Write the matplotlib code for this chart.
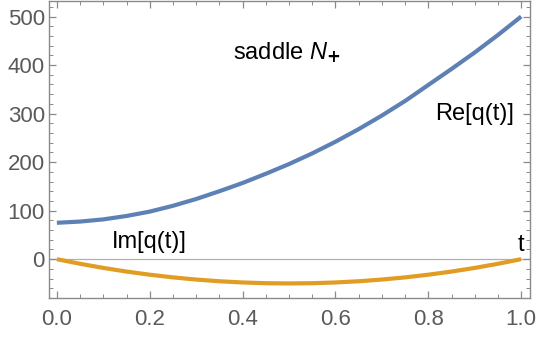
import matplotlib
matplotlib.use('Agg')
import matplotlib.pyplot as plt
from matplotlib.ticker import MultipleLocator

plt.rcParams['font.family'] = ['Liberation Sans', 'DejaVu Sans']
plt.rcParams['mathtext.fontset'] = 'custom'
plt.rcParams['mathtext.rm'] = 'Liberation Sans'
plt.rcParams['mathtext.it'] = 'Liberation Sans:italic'

# values, t in steps of 0.05
t = [0.0, 0.05, 0.10, 0.15, 0.20, 0.25, 0.30, 0.35, 0.40, 0.45, 0.50,
     0.55, 0.60, 0.65, 0.70, 0.75, 0.80, 0.85, 0.90, 0.95, 1.0]
re_q = [75, 77.5, 82, 89, 98, 110, 124, 140, 157, 176, 196,
        218, 242, 268, 296, 326, 359, 392, 426, 462, 500]
im_q = [0, -9.5, -18, -25.5, -32, -37.5, -42, -45.5, -48, -49.5, -50,
        -49.5, -48, -45.5, -42, -37.5, -32, -25.5, -18, -9.5, 0]

blue = '#5e81b5'
orange = '#e19c24'
frame = '#8a8a8a'

fig = plt.figure(figsize=(5.4, 3.41), dpi=100)
ax = fig.add_axes([0.0907, 0.1261, 0.8908, 0.8724])

ax.axhline(0, color='#b0b0b0', lw=0.9, zorder=1)
ax.plot(t, re_q, color=blue, lw=3.0, solid_capstyle='butt', solid_joinstyle='round', zorder=3)
ax.plot(t, im_q, color=orange, lw=3.0, solid_capstyle='butt', solid_joinstyle='round', zorder=3)

ax.set_xlim(-0.017, 1.019)
ax.set_ylim(-80, 533)

ax.xaxis.set_major_locator(MultipleLocator(0.2))
ax.xaxis.set_minor_locator(MultipleLocator(0.05))
ax.yaxis.set_major_locator(MultipleLocator(100))
ax.yaxis.set_minor_locator(MultipleLocator(20))
ax.xaxis.set_major_formatter(plt.FuncFormatter(lambda v, p: f'{v:.1f}'))
ax.yaxis.set_major_formatter(plt.FuncFormatter(lambda v, p: f'{v:.0f}'))

ax.tick_params(which='both', direction='in', top=True, right=True,
               color=frame, labelcolor='#5a5a5a', labelsize=16)
ax.tick_params(which='major', length=5, width=0.9)
ax.tick_params(which='minor', length=3, width=0.7)
ax.tick_params(axis='x', pad=8)
ax.tick_params(axis='y', pad=3)
for s in ax.spines.values():
    s.set_color(frame)
    s.set_linewidth(1.0)

fs = 17
ax.text(0.494, 426, r'saddle $N_{\mathbf{+}}$', fontsize=fs, ha='center', va='center')
ax.text(0.90, 300, 'Re[q(t)]', fontsize=fs, ha='center', va='center')
ax.text(0.20, 35, 'Im[q(t)]', fontsize=fs, ha='center', va='center')
ax.text(1.0, 29, 't', fontsize=fs, ha='center', va='center')

fig.savefig('out.png', dpi=100)
